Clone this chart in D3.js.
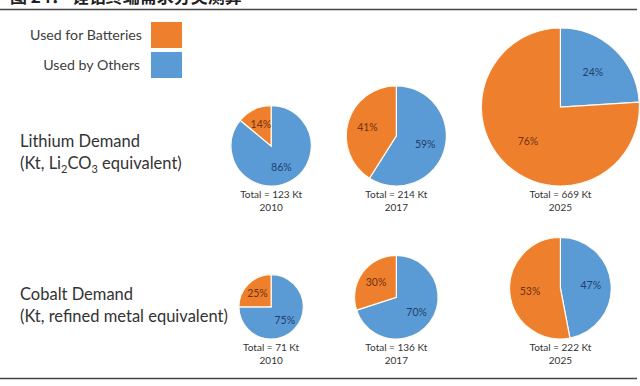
<!DOCTYPE html>
<html>
<head>
<meta charset="utf-8">
<script src="https://cdn.jsdelivr.net/npm/d3@7"></script>
<style>
  html, body { margin: 0; padding: 0; background: #fff; }
  svg { display: block; }
</style>
</head>
<body>
<div id="chart"></div>
<script>
// data
const titleText = '图 24： 锂钴终端需求分类测算';
const metals = ['Lithium', 'Cobalt'];
const years = ['2010', '2017', '2025'];
const seriesNames = ['Used for Batteries', 'Used by Others'];
const totalsLithium = [123, 214, 669];
const totalsCobalt = [71, 136, 222];
const batteriesLithium = [14, 41, 76];
const othersLithium = [86, 59, 24];
const batteriesCobalt = [25, 30, 53];
const othersCobalt = [75, 70, 47];

const width = 640;
const height = 386;
const orange = '#EE7F2C';
const blue = '#5B9BD5';
const font = 'Lato, "Open Sans", sans-serif';

const svg = d3.select('#chart').append('svg')
  .attr('width', width)
  .attr('height', height);

// figure title, cut off by the top edge as in the source
svg.append('text')
  .attr('x', 10)
  .attr('y', 3)
  .attr('font-family', '"Noto Sans CJK SC", sans-serif')
  .attr('font-weight', 'bold')
  .attr('font-size', 17)
  .attr('fill', '#222')
  .text(titleText);

svg.append('line')
  .attr('x1', 0).attr('x2', 637)
  .attr('y1', 9.5).attr('y2', 9.5)
  .attr('stroke', '#444').attr('stroke-width', 1.3);

svg.append('line')
  .attr('x1', 0).attr('x2', 637)
  .attr('y1', 378.5).attr('y2', 378.5)
  .attr('stroke', '#444').attr('stroke-width', 1.5);

// legend
const color = d3.scaleOrdinal().domain(seriesNames).range([orange, blue]);
const legendY = d3.scalePoint().domain(seriesNames).range([35, 65]);

const legend = svg.append('g');
legend.selectAll('rect')
  .data(seriesNames)
  .join('rect')
    .attr('x', 151)
    .attr('y', d => legendY(d) - 13)
    .attr('width', 31)
    .attr('height', 26)
    .attr('fill', d => color(d));
legend.selectAll('text')
  .data(seriesNames)
  .join('text')
    .attr('x', d => d === seriesNames[0] ? 142 : 140)
    .attr('y', d => legendY(d))
    .attr('dy', '0.35em')
    .attr('text-anchor', 'end')
    .attr('font-family', font)
    .attr('font-size', 14.2)
    .attr('fill', '#404040')
    .text(d => d);

// table of pies
const rows = [
  { metal: 'Lithium', totals: totalsLithium, batteries: batteriesLithium, others: othersLithium },
  { metal: 'Cobalt', totals: totalsCobalt, batteries: batteriesCobalt, others: othersCobalt }
];
const pies = rows.flatMap(row => years.map((year, i) => ({
  metal: row.metal,
  year,
  total: row.totals[i],
  parts: [
    { name: seriesNames[1], value: row.others[i] },
    { name: seriesNames[0], value: row.batteries[i] }
  ]
})));

const allTotals = totalsLithium.concat(totalsCobalt);
const rScale = d3.scalePow().exponent(0.4)
  .domain([0, d3.max(allTotals)])
  .range([0, 79]);

// pies sit on a common baseline per row
const rowBottom = d3.scalePoint().domain(metals).range([186, 339]);

// columns packed by their widest pie
const gap = 35;
const colR = years.map((y, i) => d3.max(rows, r => rScale(r.totals[i])));
const colX = [];
colR.forEach((r, i) => {
  colX.push(i === 0 ? 231 + r : colX[i - 1] + colR[i - 1] + gap + r);
});
const xOf = year => colX[years.indexOf(year)];

const pie = d3.pie().sort(null).value(d => d.value);

const cells = svg.append('g')
  .selectAll('g')
  .data(pies)
  .join('g')
    .attr('transform', d => `translate(${xOf(d.year)},${rowBottom(d.metal) - rScale(d.total)})`);

cells.each(function(d) {
  const r = rScale(d.total);
  const arc = d3.arc().innerRadius(0).outerRadius(r);
  const labelArc = d3.arc().innerRadius(r * 0.6).outerRadius(r * 0.6);
  const g = d3.select(this);

  g.selectAll('path')
    .data(pie(d.parts))
    .join('path')
      .attr('d', arc)
      .attr('fill', p => color(p.data.name))
      .attr('stroke', '#fffaf0')
      .attr('stroke-width', 1.2);

  g.selectAll('text.pct')
    .data(pie(d.parts))
    .join('text')
      .attr('class', 'pct')
      .attr('transform', p => `translate(${labelArc.centroid(p)})`)
      .attr('text-anchor', 'middle')
      .attr('dy', '0.35em')
      .attr('font-family', font)
      .attr('font-size', 10.5)
      .attr('fill', p => p.data.name === seriesNames[0] ? '#6E3210' : '#1F3E6E')
      .text(p => p.data.value + '%');
});

// totals and years under each pie
const captions = svg.append('g')
  .selectAll('g')
  .data(pies)
  .join('g')
    .attr('transform', d => `translate(${xOf(d.year)},${rowBottom(d.metal)})`)
    .attr('font-family', font)
    .attr('font-size', 10)
    .attr('fill', '#333')
    .attr('text-anchor', 'middle');
captions.append('text')
  .attr('y', 12)
  .text(d => `Total = ${d.total} Kt`);
captions.append('text')
  .attr('y', 25)
  .text(d => d.year);

// row titles
const titles = svg.append('g')
  .selectAll('text')
  .data(metals)
  .join('text')
    .attr('x', 20)
    .attr('y', d => rowBottom(d) - 39)
    .attr('font-family', font)
    .attr('font-size', 16.5)
    .attr('fill', '#333');
titles.append('tspan')
  .text(d => `${d} Demand`);
titles.each(function(d) {
  const t = d3.select(this).append('tspan')
    .attr('x', 20)
    .attr('dy', 22);
  if (d === 'Lithium') {
    t.append('tspan').text('(Kt, Li');
    t.append('tspan').attr('font-size', 11).attr('dy', 4).text('2');
    t.append('tspan').attr('dy', -4).text('CO');
    t.append('tspan').attr('font-size', 11).attr('dy', 4).text('3');
    t.append('tspan').attr('dy', -4).text(' equivalent)');
  } else {
    t.text('(Kt, refined metal equivalent)');
  }
});
</script>
</body>
</html>
